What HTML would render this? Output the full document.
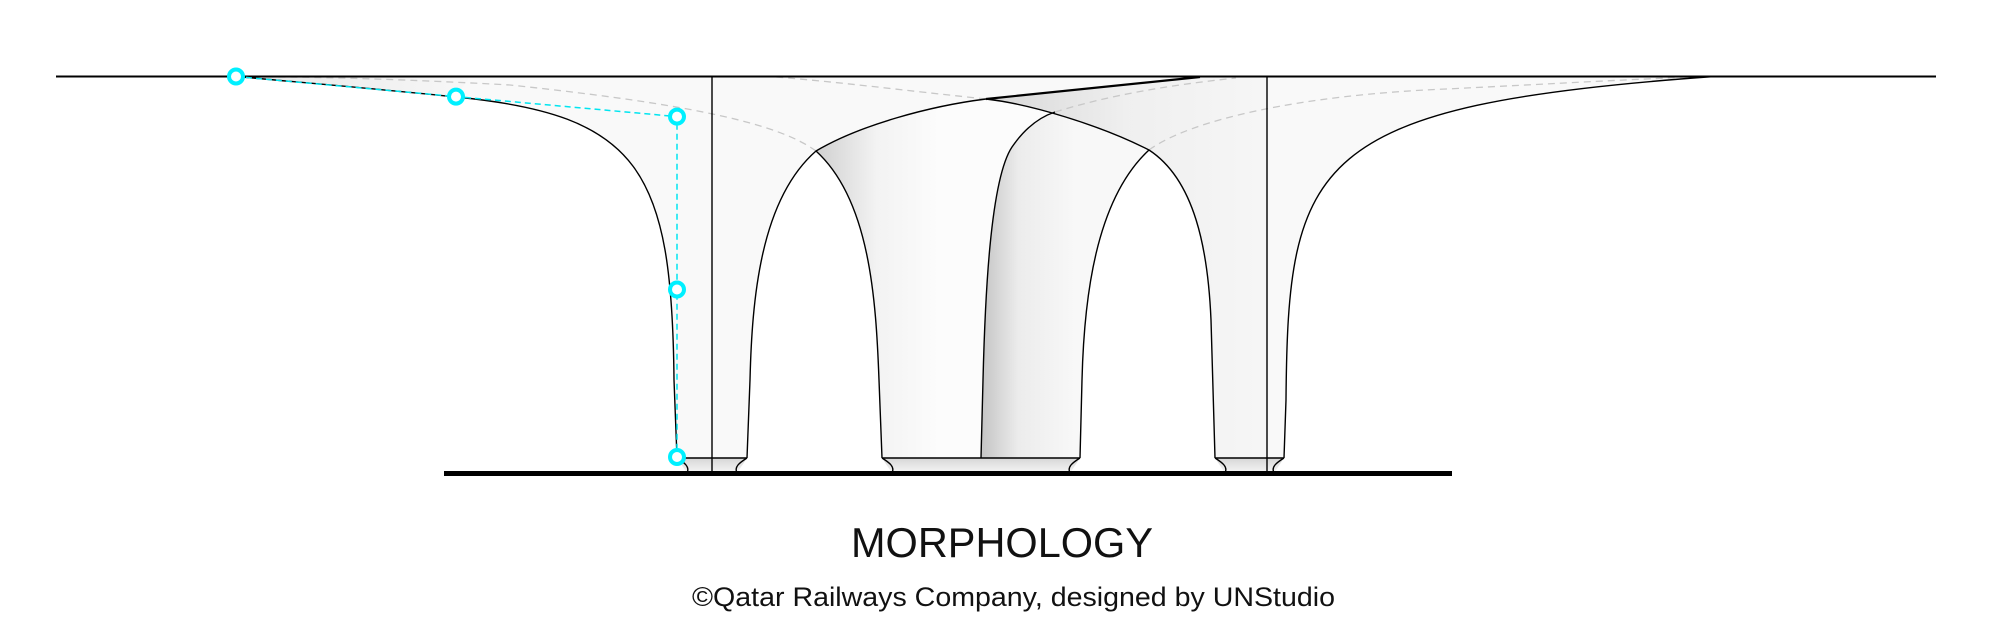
<!DOCTYPE html>
<html><head><meta charset="utf-8"><style>
html,body{margin:0;padding:0;background:#fff;}
svg{display:block;}
</style></head><body>
<svg width="2000" height="633" viewBox="0 0 2000 633" xmlns="http://www.w3.org/2000/svg">
<defs>
<linearGradient id="g1" x1="814" y1="0" x2="940" y2="0" gradientUnits="userSpaceOnUse">
<stop offset="0" stop-color="#cfcfcf"/><stop offset="0.5" stop-color="#f3f3f3"/><stop offset="1" stop-color="#fcfcfc"/></linearGradient>
<linearGradient id="g2" x1="981" y1="0" x2="1075" y2="0" gradientUnits="userSpaceOnUse">
<stop offset="0" stop-color="#c4c4c4"/><stop offset="0.4" stop-color="#ececec"/><stop offset="1" stop-color="#f8f8f8"/></linearGradient>
<linearGradient id="g3" x1="986" y1="0" x2="1267" y2="0" gradientUnits="userSpaceOnUse">
<stop offset="0" stop-color="#c8c8c8"/><stop offset="0.5" stop-color="#ebebeb"/><stop offset="1" stop-color="#f5f5f5"/></linearGradient>
<linearGradient id="g4" x1="236" y1="0" x2="500" y2="0" gradientUnits="userSpaceOnUse">
<stop offset="0" stop-color="#dcdcdc"/><stop offset="1" stop-color="#f9f9f9"/></linearGradient>
<linearGradient id="gf" x1="0" y1="458" x2="0" y2="473" gradientUnits="userSpaceOnUse">
<stop offset="0" stop-color="#d6d6d6"/><stop offset="1" stop-color="#f6f6f6"/></linearGradient>
</defs>

<path d="M236,76.5 L1714,76.5 C1310,105 1288,160 1286,400 L1284,458 L1274,473 L1225,473 L1215,458 L1211,320 C1208,250 1195,180 1149,150 C1095,200 1084,300 1082,380 L1080,458 L1070,473 L892,473 L882,458 L879,380 C876,300 870,200 816,151 C760,200 752,300 750,380 L747,458 L737,473 L687,473 L677,458 L674,380 C672,170 640,115 456,97 C400,91 330,85 236,76.5 Z" fill="#f9f9f9"/>
<path d="M236,76.5 C330,85 400,91 456,97 L470,76.5 Z" fill="url(#g4)" opacity="0.6"/>
<path d="M816,151 C870,200 876,300 879,380 L882,458 L981,458 L983,380 C985,300 990,180 1012,147 C1025,128 1040,117 1055,112 C1030,104 1010,101 986,99 C930,106 860,125 816,151 Z" fill="url(#g1)"/>
<path d="M981,458 L983,380 C985,300 990,180 1012,147 C1025,128 1040,117 1055,112 C1080,120 1120,135 1149,150 C1095,200 1084,300 1082,380 L1080,458 Z" fill="url(#g2)"/>
<path d="M986,99 L1200,77 L1267,77 L1267,458 L1215,458 L1211,320 C1208,250 1195,180 1149,150 C1100,125 1030,104 986,99 Z" fill="url(#g3)" opacity="0.7"/>
<path d="M677,458 L747,458 L737,473 L687,473 Z M882,458 L1080,458 L1070,473 L892,473 Z M1215,458 L1284,458 L1274,473 L1225,473 Z" fill="url(#gf)"/>

<g fill="none" stroke="#c8c8c8" stroke-width="1.3" stroke-dasharray="7 5">
<path d="M816,151 C780,125 700,105 510,85 C420,80 330,77 270,77"/>
<path d="M1055,112 C1110,95 1170,85 1236,78"/>
<path d="M1149,150 C1190,120 1300,95 1446,89 C1550,84 1650,78 1714,76.5"/>
<path d="M986,99 C900,90 840,82 770,76.5"/>
</g>

<g fill="none" stroke="#000" stroke-width="1.4">
<path d="M236,76.5 C330,85 400,91 456,97 C640,115 672,170 674,380 L677,458"/>
<path d="M747,458 L750,380 C752,300 760,200 816,151 C860,125 930,106 986,99"/>
<path d="M882,458 L879,380 C876,300 870,200 816,151"/>
<path d="M981,458 L983,380 C985,300 990,180 1012,147 C1025,128 1040,117 1055,112"/>
<path d="M986,99 C1030,104 1100,125 1149,150 C1195,180 1208,250 1211,320 L1215,458"/>
<path d="M1080,458 L1082,380 C1084,300 1095,200 1149,150"/>
<path d="M1284,458 L1286,400 C1288,160 1310,105 1714,76.5"/>
<line x1="712" y1="76.5" x2="712" y2="473"/>
<line x1="1267" y1="76.5" x2="1267" y2="473"/>
<path d="M677,458 L747,458 M882,458 L1080,458 M1215,458 L1284,458"/>
<path d="M677,458 C685,463 690,467 687,473 M747,458 C739,463 734,467 737,473"/>
<path d="M882,458 C890,463 895,467 892,473 M1080,458 C1072,463 1067,467 1070,473"/>
<path d="M1215,458 C1223,463 1228,467 1225,473 M1284,458 C1276,463 1271,467 1274,473"/>
</g>
<path d="M986,99 L1200,77" stroke="#000" stroke-width="2.2" fill="none"/>

<line x1="56" y1="76.5" x2="1936" y2="76.5" stroke="#000" stroke-width="2"/>
<line x1="444" y1="473.5" x2="1452" y2="473.5" stroke="#000" stroke-width="5"/>

<path d="M236,76.5 L456,96.6 L677,116.6 L677,458" fill="none" stroke="#00e5f0" stroke-width="1.5" stroke-dasharray="6 4"/>
<g fill="#fff" stroke="#00f0ff" stroke-width="4">
<circle cx="236" cy="76.5" r="7"/>
<circle cx="456" cy="96.6" r="7"/>
<circle cx="677" cy="116.6" r="7"/>
<circle cx="677" cy="289.5" r="7"/>
<circle cx="677" cy="457" r="7"/>
</g>

<text x="1002" y="557" text-anchor="middle" font-family="Liberation Sans, sans-serif" font-size="42" fill="#111" textLength="302" lengthAdjust="spacingAndGlyphs">MORPHOLOGY</text>
<text x="692" y="606" font-family="Liberation Sans, sans-serif" font-size="27" fill="#111" textLength="643" lengthAdjust="spacingAndGlyphs">©Qatar Railways Company, designed by UNStudio</text>
</svg>
</body></html>
